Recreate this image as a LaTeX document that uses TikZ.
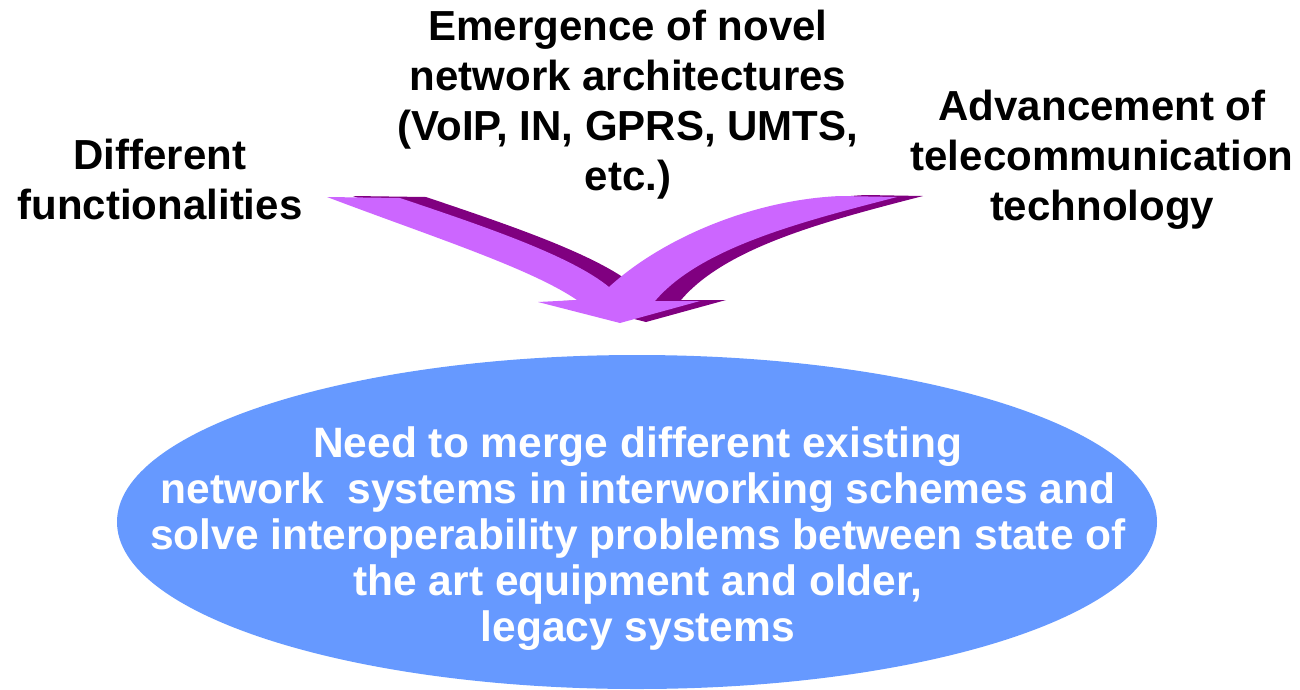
\documentclass[tikz,border=0pt]{standalone}
\usepackage{fontspec}
\setmainfont{Liberation Sans}
\usepackage{tikz}
\usetikzlibrary{shapes,arrows,calc}
\definecolor{skyblue}{HTML}{6699FF}
\definecolor{lilac}{HTML}{CC66FF}
\definecolor{plum}{HTML}{800080}
\tikzstyle{cause} = [text centered, align=center, inner sep=0pt, font=\fontsize{42}{50}\selectfont\bfseries]
\tikzstyle{goal} = [ellipse, fill=skyblue, inner sep=0pt, minimum width=1040pt, minimum height=334pt]
\tikzstyle{goaltext} = [text=white, text centered, align=center, inner sep=0pt, font=\fontsize{42.5}{46}\selectfont\bfseries]
\newcommand{\mergepath}{(327,197) -- (400,198) .. controls (480,225) and (570,255) .. (609,287)
  .. controls (660,240) and (750,200) .. (840,196) -- (897,197)
  .. controls (800,222) and (700,248) .. (655,301) -- (700,301) -- (620,323) -- (538,302) -- (577,300)
  .. controls (530,268) and (430,236) .. (327,197) -- cycle}

\begin{document}
\begin{tikzpicture}[x=1pt, y=-1pt]
    \useasboundingbox (0,0) rectangle (1300,689);
    \node[goal] (need) at (637,522) {};
    \node[goaltext] (needtext) at (638,539) {Need to merge different existing\\network~ systems in interworking schemes and\\solve interoperability problems between state of\\the art equipment and older,\\legacy systems};
    \node[cause] (func) at (160,179) {Different\\functionalities};
    \node[cause] (arch) at (628,105) {Emergence of novel\\network architectures\\(VoIP, IN, GPRS, UMTS,\\etc.)};
    \node[cause] (tech) at (1102,160) {Advancement of\\telecommunication\\technology};
    % merging arrow, shadow first
    \fill[plum, shift={(26,-1)}] \mergepath;
    \fill[lilac] \mergepath;
\end{tikzpicture}
\end{document}
